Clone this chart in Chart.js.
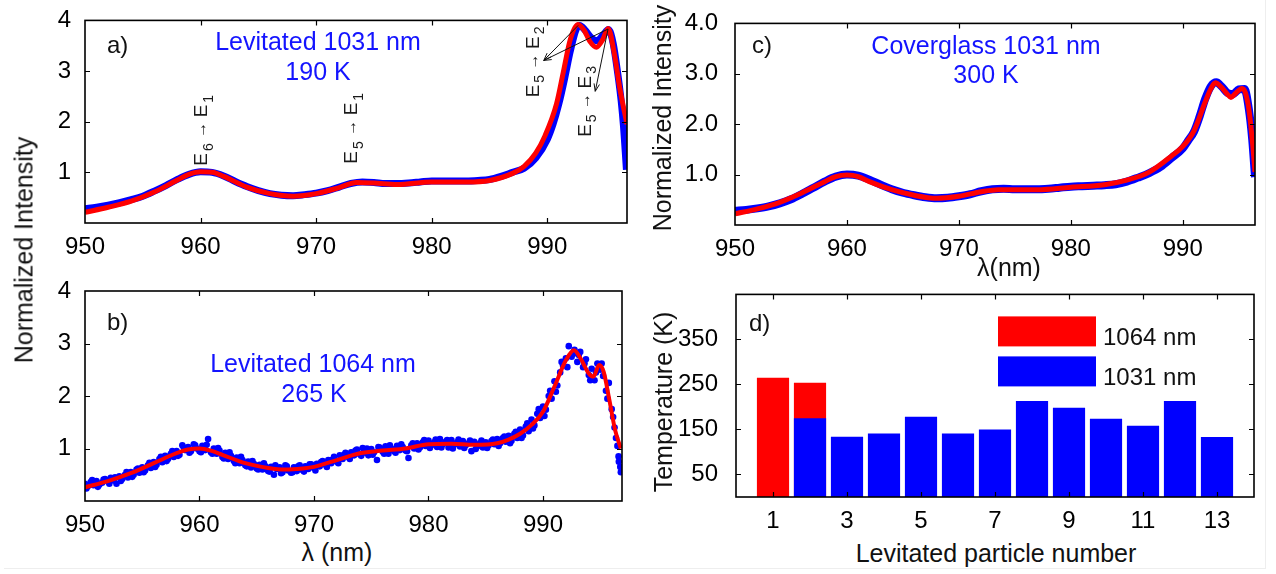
<!DOCTYPE html>
<html lang="en">
<head>
<meta charset="utf-8">
<title>Levitated particle spectra</title>
<script src="https://cdn.jsdelivr.net/npm/chart.js"></script>
<style>
  body { margin:0; background:#fff; width:1276px; height:574px; position:relative; overflow:hidden;
         font-family:"Liberation Sans", Arial, sans-serif; }
  canvas { position:absolute; }
  .t { position:absolute; transform:translate(-50%,-50%); white-space:nowrap; font-size:25px; color:#111; line-height:1; }
  .rot { transform:translate(-50%,-50%) rotate(-90deg); }
  .blue { color:#1414ff; }
  .tag { transform:translate(0,-50%); font-size:24px; }
  #frame { position:absolute; left:4px; top:0; width:1261px; height:568px; border-right:1px solid #eee; border-bottom:1px solid #eee; }
</style>
</head>
<body>
<div id="frame"></div>
<canvas id="pa" width="640" height="262" style="left:0;top:0"></canvas>
<canvas id="pb" width="640" height="262" style="left:0;top:270px"></canvas>
<canvas id="pc" width="636" height="262" style="left:640px;top:0"></canvas>
<canvas id="pd" width="636" height="262" style="left:640px;top:270px"></canvas>

<div class="t rot" style="left:24px;top:250px">Normalized Intensity</div>
<div class="t rot" style="left:662px;top:118px">Normalized Intensity</div>
<div class="t rot" style="left:663px;top:402px">Temperature (K)</div>
<div class="t" style="left:337px;top:552px">λ (nm)</div>
<div class="t" style="left:1009px;top:267px">λ(nm)</div>
<div class="t" style="left:996px;top:553px">Levitated particle number</div>

<div class="t tag" style="left:107px;top:45px">a)</div>
<div class="t tag" style="left:107px;top:322px">b)</div>
<div class="t tag" style="left:752px;top:45px">c)</div>
<div class="t tag" style="left:749px;top:323px">d)</div>

<div class="t blue" style="left:318px;top:41px">Levitated 1031 nm</div>
<div class="t blue" style="left:318px;top:71px">190 K</div>
<div class="t blue" style="left:313px;top:363px">Levitated 1064 nm</div>
<div class="t blue" style="left:314px;top:393px">265 K</div>
<div class="t blue" style="left:986px;top:45px">Coverglass 1031 nm</div>
<div class="t blue" style="left:986px;top:74px">300 K</div>

<script>
// ---- data ----
const spectrumXTicks = [950, 960, 970, 980, 990];
const intensityTicks = [1, 2, 3, 4];

// a) levitated, 1031 nm excitation
const aBlueWl = [950,951,952,953,954,955,956,957,958,959,960,961,962,963,964,965,966,967,968,969,970,971,972,973,974,975,976,977,978,979,980,981,982,983,984,985,986,987,988,989,990,990.5,991,991.5,992,992.5,992.8,993.3,993.8,994.3,994.8,995.3,995.7,996.1,996.4,996.6,996.75,996.85];
const aBlueInt = [0.28,0.31,0.35,0.40,0.46,0.53,0.63,0.74,0.86,0.96,1.01,1.00,0.93,0.82,0.72,0.64,0.58,0.55,0.54,0.56,0.59,0.64,0.71,0.78,0.81,0.80,0.78,0.78,0.79,0.81,0.83,0.83,0.83,0.83,0.84,0.86,0.92,1.00,1.08,1.28,1.65,1.95,2.35,2.85,3.40,3.82,3.90,3.80,3.66,3.60,3.70,3.82,3.55,2.95,2.40,1.90,1.40,1.05];
const aFitWl = [950,952,954,956,958,959,960,961,962,964,966,968,970,972,973.5,975,977,980,983,985,987,988,989,989.8,990.8,991.4,992,992.67,993.2,993.7,994.25,994.8,995.26,995.83,996.26,996.9];
const aFitInt = [0.21,0.31,0.43,0.61,0.85,0.96,1.01,1.00,0.92,0.71,0.58,0.53,0.58,0.70,0.80,0.79,0.76,0.81,0.81,0.84,0.98,1.12,1.38,1.72,2.35,2.99,3.63,3.92,3.80,3.58,3.47,3.62,3.84,3.31,2.68,1.95];

// transition labels in panel a: [upper, lower] subscripts, placed at (wavelength, intensity)
const aLevelSubs = [['6','1'], ['5','1'], ['5','2'], ['5','3']];
const aLevelWl = [960.1, 973.1, 988.8, 993.3];
const aLevelInt = [1.84, 1.88, 3.19, 2.41];
const aArrowFrom = [[992.67, 3.90], [995.26, 3.83], [995.26, 3.83]];
const aArrowTo = [[989.7, 3.21], [989.7, 3.21], [994.15, 2.60]];

// b) levitated, 1064 nm excitation (noisy points)
const bDots = [
  [950.00,0.33],[950.25,0.28],[950.50,0.36],[950.75,0.30],[951.00,0.38],[951.25,0.31],[951.50,0.35],[951.75,0.42],
  [952.00,0.37],[952.25,0.44],[952.50,0.39],[952.75,0.33],[953.00,0.47],[953.25,0.42],[953.50,0.50],[953.75,0.45],
  [954.00,0.55],[954.25,0.50],[954.50,0.60],[954.75,0.54],[955.00,0.64],[955.25,0.58],[955.50,0.68],[955.75,0.63],
  [956.00,0.74],[956.25,0.69],[956.50,0.80],[956.75,0.74],[957.00,0.86],[957.25,0.80],[957.50,0.90],[957.75,0.84],
  [958.00,0.95],[958.25,0.88],[958.50,1.06],[958.75,0.97],[959.00,1.03],[959.25,0.95],[959.50,1.08],[959.75,1.00],
  [960.00,0.95],[960.25,1.05],[960.50,0.97],[960.75,1.18],[961.00,0.93],[961.25,1.00],[961.50,0.90],[961.75,0.96],
  [962.00,0.84],[962.25,0.92],[962.50,0.80],[962.75,0.86],[963.00,0.76],[963.25,0.83],[963.50,0.72],[963.75,0.78],
  [964.00,0.68],[964.25,0.75],[964.50,0.64],[964.75,0.71],[965.00,0.62],[965.25,0.69],[965.50,0.60],[965.75,0.66],
  [966.00,0.57],[966.25,0.65],[966.50,0.50],[966.75,0.61],[967.00,0.64],[967.25,0.55],[967.50,0.68],[967.75,0.58],
  [968.00,0.54],[968.25,0.64],[968.50,0.57],[968.75,0.68],[969.00,0.59],[969.25,0.66],[969.50,0.61],[969.75,0.70],
  [970.00,0.63],[970.25,0.71],[970.50,0.66],[970.75,0.76],[971.00,0.69],[971.25,0.78],[971.50,0.72],[971.75,0.84],
  [972.00,0.75],[972.25,0.87],[972.50,0.80],[972.75,0.92],[973.00,0.84],[973.25,0.93],[973.50,0.87],[973.75,0.98],
  [974.00,0.89],[974.25,1.01],[974.50,0.92],[974.75,0.87],[975.00,0.99],[975.25,0.93],[975.50,0.78],[975.75,1.02],
  [976.00,0.94],[976.25,1.04],[976.50,0.90],[976.75,1.00],[977.00,0.95],[977.25,1.05],[977.50,0.97],[977.75,1.03],
  [978.00,0.96],[978.25,0.82],[978.50,1.06],[978.75,1.00],[979.00,1.10],[979.25,1.02],[979.50,1.12],[979.75,1.05],
  [980.00,1.15],[980.25,1.06],[980.50,1.12],[980.75,1.03],[981.00,1.18],[981.25,1.08],[981.50,1.13],[981.75,1.02],
  [982.00,1.16],[982.25,1.07],[982.50,1.12],[982.75,1.04],[983.00,1.14],[983.25,1.06],[983.50,1.10],[983.75,0.95],
  [984.00,1.13],[984.25,1.04],[984.50,1.10],[984.75,1.02],[985.00,1.12],[985.25,1.06],[985.50,1.14],[985.75,1.08],
  [986.00,1.18],[986.25,1.10],[986.50,1.20],[986.75,1.13],[987.00,1.24],[987.25,1.15],[987.50,1.28],[987.75,1.20],
  [988.00,1.36],[988.25,1.25],[988.50,1.42],[988.75,1.33],[989.00,1.55],[989.25,1.44],[989.50,1.66],[989.75,1.58],
  [990.00,1.80],[990.25,1.74],[990.50,2.00],[990.75,1.95],[991.00,2.28],[991.25,2.20],[991.50,2.45],[991.75,2.58],
  [992.00,2.72],[992.25,2.95],[992.50,2.75],[992.75,2.88],[993.00,2.65],[993.25,2.84],[993.50,2.55],[993.75,2.70],
  [994.00,2.40],[994.25,2.52],[994.50,2.30],[994.75,2.62],[995.00,2.50],[995.25,2.38],[995.50,2.10],[995.75,2.25],
  [996.00,1.75],[996.25,1.40],[996.50,1.05],[996.60,0.85],[996.75,0.65],[996.80,0.55]
];
// second, interleaved pass of the same noisy cloud
const bDotsExtra = [
  [950.125,0.24],[950.625,0.40],[951.125,0.27],[951.625,0.41],[952.125,0.33],[952.625,0.45],[953.125,0.38],[953.625,0.55],
  [954.125,0.46],[954.625,0.62],[955.125,0.55],[955.625,0.73],[956.125,0.65],[956.625,0.84],[957.125,0.76],[957.625,0.95],
  [958.125,0.86],[958.625,1.02],[959.125,0.92],[959.625,1.06],[960.125,0.93],[960.625,1.07],[961.125,0.90],[961.625,1.01],
  [962.125,0.81],[962.625,0.93],[963.125,0.72],[963.625,0.84],[964.125,0.66],[964.625,0.76],[965.125,0.60],[965.625,0.72],
  [966.125,0.56],[966.625,0.68],[967.125,0.53],[967.625,0.66],[968.125,0.55],[968.625,0.66],[969.125,0.56],[969.625,0.70],
  [970.125,0.58],[970.625,0.74],[971.125,0.65],[971.625,0.79],[972.125,0.72],[972.625,0.88],[973.125,0.80],[973.625,0.96],
  [974.125,0.86],[974.625,1.00],[975.125,0.88],[975.625,1.03],[976.125,0.90],[976.625,1.06],[977.125,0.92],[977.625,1.08],
  [978.125,0.95],[978.625,1.10],[979.125,0.98],[979.625,1.16],[980.125,1.01],[980.625,1.17],[981.125,1.02],[981.625,1.16],
  [982.125,1.00],[982.625,1.17],[983.125,1.01],[983.625,1.15],[984.125,0.99],[984.625,1.15],[985.125,1.01],[985.625,1.17],
  [986.125,1.05],[986.625,1.23],[987.125,1.10],[987.625,1.32],[988.125,1.20],[988.625,1.48],[989.125,1.38],[989.625,1.75],
  [990.125,1.62],[990.625,2.10],[991.125,2.08],[991.625,2.65],[992.125,2.55],[992.625,2.80],[993.125,2.78],[993.625,2.62],
  [994.125,2.30],[994.625,2.45],[995.125,2.62],[995.625,1.95],[996.125,1.60],[996.375,1.20],[996.625,0.75]
];
const bFitWl = [950,952,954,956,958,959,960,961,962,964,966,967.5,969,970,972,974,976,978,980,982,984,986,987,988,989,990,991,992,992.7,993.3,994,994.4,994.9,995.3,995.8,996.3,996.8];
const bFitInt = [0.26,0.38,0.53,0.72,0.91,0.98,1.00,0.96,0.88,0.72,0.63,0.60,0.62,0.65,0.78,0.91,0.96,1.00,1.08,1.09,1.07,1.10,1.17,1.28,1.45,1.70,2.18,2.68,2.87,2.71,2.43,2.37,2.59,2.46,1.92,1.35,1.00];

// c) coverglass, 1031 nm excitation
const cBlueWl = [950,951,952,953,954,955,956,957,958,959,960,961,962,963,964,965,966,967,968,969,970,971,972,973,974,975,976,977,978,979,980,981,982,983,984,985,986,987,988,989,990,990.5,991,991.5,992,992.5,993,993.5,994,994.5,995,995.5,995.9,996.2,996.45];
const cBlueInt = [0.28,0.30,0.33,0.37,0.43,0.51,0.62,0.74,0.86,0.96,1.00,0.98,0.90,0.80,0.71,0.64,0.59,0.55,0.53,0.54,0.57,0.61,0.67,0.71,0.72,0.71,0.71,0.71,0.72,0.74,0.76,0.77,0.78,0.79,0.81,0.86,0.94,1.03,1.15,1.33,1.52,1.68,1.85,2.15,2.50,2.75,2.83,2.74,2.62,2.60,2.69,2.70,2.30,1.70,0.95];
const cFitWl = [950,952,954,956,958,959,960,961,962,964,966,968,970,972,973.5,975,977,980,983,985,987,989,990,991,992,992.5,992.9,993.5,994,994.3,994.7,995.3,995.6,995.9,996.2,996.45];
const cFitInt = [0.22,0.32,0.45,0.64,0.86,0.96,0.99,0.96,0.86,0.70,0.59,0.53,0.57,0.66,0.70,0.70,0.70,0.75,0.80,0.89,1.05,1.37,1.56,1.87,2.44,2.70,2.82,2.72,2.59,2.53,2.61,2.71,2.62,2.30,1.70,1.05];

// d) temperatures
const particleNo = [1,2,3,4,5,6,7,8,9,10,11,12,13];
const temp1064 = [265,254,null,null,null,null,null,null,null,null,null,null,null];
const temp1031 = [null,175,134,141,178,141,150,213,198,174,158,213,133];
const particleTicks = [1,3,5,7,9,11,13];
const tempTicks = [50,150,250,350];

// ---- drawing ----
const FONT = '"Liberation Sans", Arial, sans-serif';
const BLUE = '#0000ff';
const RED = '#ff0000';

function pairs(xs, ys) {
  return xs.map((x, i) => ({ x: x, y: ys[i] }));
}

// black box round the plot with inward ticks on all four sides
const boxFrame = {
  id: 'boxFrame',
  afterDatasetsDraw(chart) {
    const { ctx, chartArea, scales } = chart;
    const { left, right, top, bottom } = chartArea;
    ctx.save();
    ctx.strokeStyle = '#000';
    ctx.lineWidth = 1.2;
    ctx.beginPath();
    scales.x.ticks.forEach(t => {
      const px = Math.round(scales.x.getPixelForValue(t.value)) + 0.5;
      if (px <= left + 1 || px >= right - 1) return;
      ctx.moveTo(px, bottom); ctx.lineTo(px, bottom - 5);
      ctx.moveTo(px, top); ctx.lineTo(px, top + 5);
    });
    scales.y.ticks.forEach(t => {
      const py = Math.round(scales.y.getPixelForValue(t.value)) + 0.5;
      if (py <= top + 1 || py >= bottom - 1) return;
      ctx.moveTo(left, py); ctx.lineTo(left + 5, py);
      ctx.moveTo(right, py); ctx.lineTo(right - 5, py);
    });
    ctx.stroke();
    ctx.lineWidth = 1.6;
    ctx.strokeRect(left, top, right - left, bottom - top);
    ctx.restore();
  }
};

function drawArrow(ctx, x1, y1, x2, y2) {
  const a = Math.atan2(y2 - y1, x2 - x1);
  ctx.beginPath();
  ctx.moveTo(x1, y1); ctx.lineTo(x2, y2);
  ctx.moveTo(x2, y2); ctx.lineTo(x2 - 8 * Math.cos(a - 0.35), y2 - 8 * Math.sin(a - 0.35));
  ctx.moveTo(x2, y2); ctx.lineTo(x2 - 8 * Math.cos(a + 0.35), y2 - 8 * Math.sin(a + 0.35));
  ctx.stroke();
}

// "E_i -> E_j" labels written upward, plus arrows, for panel a
const levelLabels = {
  id: 'levelLabels',
  afterDatasetsDraw(chart) {
    const { ctx, scales } = chart;
    const xs = scales.x, ys = scales.y;
    ctx.save();
    ctx.fillStyle = '#1a1a1a';
    ctx.strokeStyle = '#111';
    ctx.lineWidth = 1;
    aLevelSubs.forEach((subs, i) => {
      const px = xs.getPixelForValue(aLevelWl[i]);
      const py = ys.getPixelForValue(aLevelInt[i]);
      const parts = [
        ['E', '19px', 0], [subs[0], '14px', 7], [' \u2192 ', '16px', 0], ['E', '19px', 0], [subs[1], '14px', 7]
      ];
      let w = 0;
      parts.forEach(p => { ctx.font = p[1] + ' ' + FONT; w += ctx.measureText(p[0]).width + (p[2] ? 3 : 0); });
      ctx.translate(px, py);
      ctx.rotate(-Math.PI / 2);
      ctx.textBaseline = 'middle';
      let cx = -w / 2;
      parts.forEach(p => {
        ctx.font = p[1] + ' ' + FONT;
        ctx.fillText(p[0], cx + (p[2] ? 2 : 0), p[2]);
        cx += ctx.measureText(p[0]).width + (p[2] ? 3 : 0);
      });
      ctx.setTransform(1, 0, 0, 1, 0, 0);
    });
    aArrowFrom.forEach((f, i) => {
      const t = aArrowTo[i];
      drawArrow(ctx, xs.getPixelForValue(f[0]), ys.getPixelForValue(f[1]),
                xs.getPixelForValue(t[0]), ys.getPixelForValue(t[1]));
    });
    ctx.restore();
  }
};

// legend boxes inside panel d
const boxLegend = {
  id: 'boxLegend',
  afterDraw(chart) {
    const { ctx, chartArea } = chart;
    ctx.save();
    chart.data.datasets.forEach((ds, i) => {
      const x = chartArea.left + 262, y = chartArea.top + 22 + i * 40;
      ctx.fillStyle = ds.backgroundColor;
      ctx.fillRect(x, y, 98, 30);
      ctx.fillStyle = '#111';
      ctx.font = '24px ' + FONT;
      ctx.textBaseline = 'middle';
      ctx.fillText(ds.label, x + 105, y + 22);
    });
    ctx.restore();
  }
};

function axisFont() {
  return { size: 24, family: FONT };
}

function spectrumChart(id, datasets, opt, extraPlugins) {
  return new Chart(document.getElementById(id), {
    type: 'scatter',
    data: { datasets: datasets },
    plugins: [boxFrame].concat(extraPlugins || []),
    options: {
      responsive: false,
      animation: false,
      layout: { padding: opt.pad },
      plugins: { legend: { display: false }, tooltip: { enabled: false } },
      scales: {
        x: {
          type: 'linear', min: 950, max: opt.xMax,
          grid: { display: false }, border: { display: false },
          ticks: { font: axisFont(), color: '#000', padding: 2, autoSkip: false, maxRotation: 0 },
          afterBuildTicks: s => { s.ticks = spectrumXTicks.map(v => ({ value: v })); },
          afterFit: s => { s.height = opt.xH; }
        },
        y: {
          type: 'linear', min: 0, max: 4,
          grid: { display: false }, border: { display: false },
          ticks: { font: axisFont(), color: '#000', padding: opt.yPad, autoSkip: false, callback: opt.fmt },
          afterBuildTicks: s => { s.ticks = intensityTicks.map(v => ({ value: v })); },
          afterFit: s => { s.width = opt.yW; }
        }
      }
    }
  });
}

function fitLine(data, width) {
  return { data: data, showLine: true, borderColor: RED, borderWidth: width, pointRadius: 0,
           cubicInterpolationMode: 'monotone', order: 0 };
}
function blueBand(data, width) {
  return { data: data, showLine: true, borderColor: BLUE, borderWidth: width, pointRadius: 0,
           cubicInterpolationMode: 'monotone', order: 1 };
}
function blueDots(points) {
  return { data: points.map(p => ({ x: p[0], y: p[1] })), pointRadius: 3.3, pointBorderWidth: 0,
           pointBackgroundColor: BLUE, backgroundColor: BLUE, order: 1 };
}

spectrumChart('pa', [
  fitLine(pairs(aFitWl, aFitInt), 5),
  blueBand(pairs(aBlueWl, aBlueInt), 7)
], { pad: { left: 0, right: 13, top: 14, bottom: 0 }, xMax: 996.9, xH: 39, yW: 85, yPad: 6,
     fmt: v => String(v) }, [levelLabels]);

spectrumChart('pb', [
  fitLine(pairs(bFitWl, bFitInt), 4),
  blueDots(bDots),
  blueDots(bDotsExtra)
], { pad: { left: 0, right: 18, top: 21, bottom: 0 }, xMax: 996.9, xH: 31, yW: 85, yPad: 6,
     fmt: v => String(v) });

spectrumChart('pc', [
  fitLine(pairs(cFitWl, cFitInt), 5),
  blueBand(pairs(cBlueWl, cBlueInt), 8)
], { pad: { left: 0, right: 21, top: 15, bottom: 0 }, xMax: 996.45, xH: 37, yW: 95, yPad: 9,
     fmt: v => v.toFixed(1) });

new Chart(document.getElementById('pd'), {
  type: 'bar',
  data: {
    datasets: [
      { label: '1064 nm', data: pairs(particleNo, temp1064), backgroundColor: RED, order: 1 },
      { label: '1031 nm', data: pairs(particleNo, temp1031), backgroundColor: BLUE, order: 0 }
    ]
  },
  plugins: [boxFrame, boxLegend],
  options: {
    responsive: false,
    animation: false,
    layout: { padding: { left: 0, right: 22, top: 24, bottom: 0 } },
    plugins: { legend: { display: false }, tooltip: { enabled: false } },
    datasets: { bar: { grouped: false, categoryPercentage: 1, barPercentage: 0.87 } },
    scales: {
      x: {
        type: 'linear', min: 0, max: 14, offset: false,
        grid: { display: false }, border: { display: false },
        ticks: { font: axisFont(), color: '#000', padding: 2, autoSkip: false, maxRotation: 0 },
        afterBuildTicks: s => { s.ticks = particleTicks.map(v => ({ value: v })); },
        afterFit: s => { s.height = 35; }
      },
      y: {
        type: 'linear', min: 0, max: 450,
        grid: { display: false }, border: { display: false },
        ticks: { font: axisFont(), color: '#000', padding: 10, autoSkip: false },
        afterBuildTicks: s => { s.ticks = tempTicks.map(v => ({ value: v })); },
        afterFit: s => { s.width = 96; }
      }
    }
  }
});
</script>
</body>
</html>
